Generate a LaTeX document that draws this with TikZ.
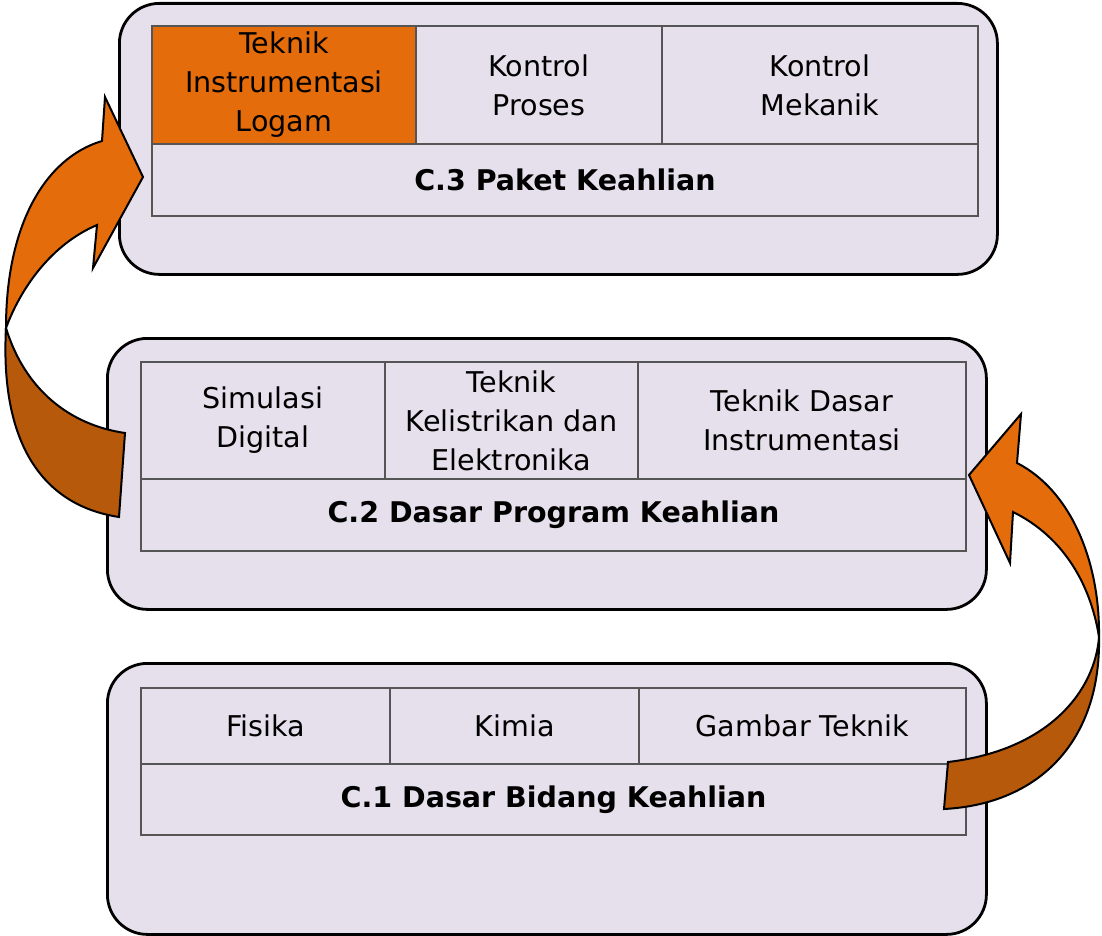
\documentclass[tikz,border=0pt]{standalone}
\usepackage{fontspec}
\setmainfont{DejaVu Sans}
\definecolor{lav}{HTML}{E5E0EC}
\definecolor{orng}{HTML}{E46C0A}
\definecolor{dorng}{HTML}{B7590B}
\definecolor{gridc}{HTML}{555555}
\begin{document}
\begin{tikzpicture}[x=1pt,y=-1pt,
  outerbox/.style={draw=black,line width=2.8pt,fill=lav,rounded corners=40pt,anchor=north west,inner sep=0pt},
  cell/.style={draw=gridc,line width=2pt,anchor=north west,inner sep=0pt,align=center,
    font=\fontsize{28.6}{39}\selectfont},
  headcell/.style={cell,font=\fontsize{28.5}{39}\selectfont\bfseries},
  arrowfront/.style={fill=orng,draw=black,line width=2pt,line join=miter},
  arrowback/.style={fill=dorng,draw=black,line width=2pt,line join=miter}]
\useasboundingbox (0,0) rectangle (1102,936);
% outer boxes
\node[outerbox,minimum width=878pt,minimum height=271pt] (o3) at (118,2) {};
\node[outerbox,minimum width=879pt,minimum height=271pt] (o2) at (106,337) {};
\node[outerbox,minimum width=879pt,minimum height=271pt] (o1) at (106,662) {};
% top grid
\node[cell,fill=orng,minimum width=264pt,minimum height=118pt] (t1) at (151,25) {Teknik\\Instrumentasi\\Logam};
\node[cell,minimum width=246pt,minimum height=118pt] (t2) at (415,25) {Kontrol\\Proses};
\node[cell,minimum width=316pt,minimum height=118pt] (t3) at (661,25) {Kontrol\\Mekanik};
\node[headcell,minimum width=826pt,minimum height=72pt] (t4) at (151,143) {C.3 Paket Keahlian};
% middle grid
\node[cell,minimum width=244pt,minimum height=117pt] (m1) at (140,361) {Simulasi\\Digital};
\node[cell,minimum width=253pt,minimum height=117pt] (m2) at (384,361) {Teknik\\Kelistrikan dan\\Elektronika};
\node[cell,minimum width=328pt,minimum height=117pt] (m3) at (637,361) {Teknik Dasar\\Instrumentasi};
\node[headcell,minimum width=825pt,minimum height=72pt] (m4) at (140,478) {C.2 Dasar Program Keahlian};
% bottom grid
\node[cell,minimum width=249pt,minimum height=76pt] (b1) at (140,687) {Fisika};
\node[cell,minimum width=249pt,minimum height=76pt] (b2) at (389,687) {Kimia};
\node[cell,minimum width=327pt,minimum height=76pt] (b3) at (638,687) {Gambar Teknik};
\node[headcell,minimum width=825pt,minimum height=71pt] (b4) at (140,763) {C.1 Dasar Bidang Keahlian};
% left arrow (C.2 -> C.3)
\coordinate (LJ) at (6,328);
\draw[arrowback] (119,517) .. controls (40,505) and (0,440) .. (LJ)
  .. controls (25,390) and (70,425) .. (125,433) -- cycle;
\draw[arrowfront] (LJ) .. controls (6,225) and (45,158) .. (102,141)
  -- (105,97) -- (143,177) -- (93,268) -- (97,225)
  .. controls (50,245) and (20,290) .. (LJ) -- cycle;
% right arrow (C.1 -> C.2)
\coordinate (RJ) at (1099,637);
\draw[arrowback] (944,809) .. controls (1040,804) and (1101,740) .. (RJ)
  .. controls (1095,690) and (1050,750) .. (948,762) -- cycle;
\draw[arrowfront] (RJ) .. controls (1100,560) and (1070,490) .. (1017,463)
  -- (1021,414) -- (969,475) -- (1010,563) -- (1013,512)
  .. controls (1060,535) and (1090,580) .. (RJ) -- cycle;
\end{tikzpicture}
\end{document}
